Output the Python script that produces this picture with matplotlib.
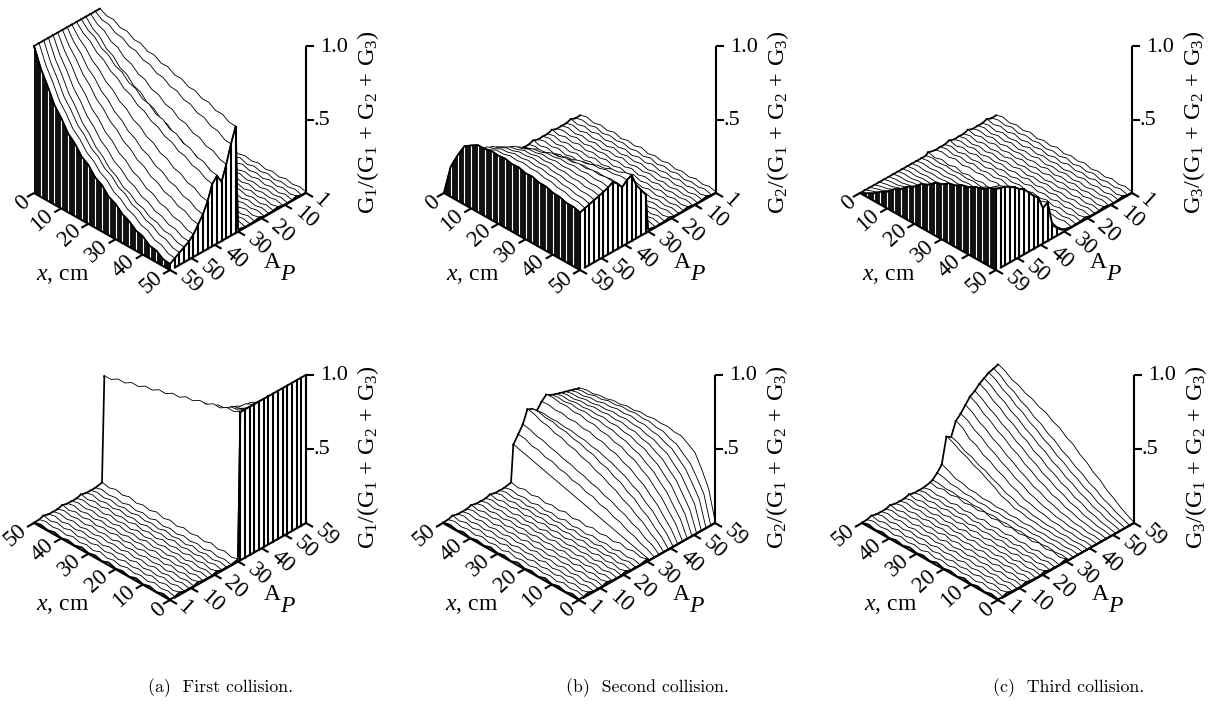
"""Six oblique surface plots of the collision fractions G_i/(G1 + G2 + G3) vs x and A_P."""

import matplotlib
matplotlib.use("Agg")
import matplotlib.pyplot as plt

W, H = 1219, 719

X_CM = [0, 2.5, 5, 7.5, 10, 12.5, 15, 17.5, 20, 22.5, 25, 27.5, 30, 32.5, 35, 37.5, 40, 42.5, 45, 47.5, 50]
A_FLOOR = [1, 3, 5, 7, 9, 11, 13, 15, 17, 19, 21, 23, 25, 27, 30]
A_RAISED = [31, 33, 35, 37, 39, 41, 43, 45, 47, 49, 51, 53, 55, 57, 59]

# the surface is nearly flat for A_P <= 30, all values below are in thousandths
FLOOR_ROWS = [
    [4, 16, 2, 15, 3, 18, 1, 14, 4, 19, 2, 15, 5, 18, 3, 14, 2, 16, 4, 15, 3],
    [2, 14, 4, 18, 1, 15, 5, 16, 2, 14, 3, 19, 1, 15, 4, 18, 2, 14, 5, 16, 3],
    [14, 1, 16, 3, 19, 2, 15, 4, 17, 1, 16, 3, 20, 4, 15, 2, 18, 3, 16, 1, 13],
    [3, 15, 1, 17, 4, 14, 2, 19, 3, 15, 5, 16, 1, 14, 4, 18, 3, 15, 2, 16, 4],
]

G1_ROWS = [
    [1000, 976, 977, 948, 950, 920, 921, 892, 893, 864, 865, 836, 837, 808, 809, 780, 781, 752, 753, 724, 722],
    [1000, 967, 962, 929, 924, 891, 886, 853, 848, 815, 810, 777, 772, 739, 734, 701, 696, 663, 658, 625, 620],
    [1000, 956, 938, 891, 876, 831, 817, 775, 763, 722, 712, 673, 665, 627, 621, 585, 579, 545, 541, 508, 500],
    [1000, 945, 917, 861, 837, 784, 764, 714, 697, 651, 636, 593, 580, 540, 530, 491, 484, 447, 442, 407, 400],
    [1000, 952, 930, 880, 861, 814, 797, 752, 738, 695, 683, 642, 633, 594, 586, 549, 542, 507, 502, 468, 460],
    [1000, 949, 921, 869, 845, 796, 775, 729, 711, 668, 652, 612, 598, 560, 549, 513, 504, 470, 462, 430, 420],
    [1000, 936, 896, 834, 800, 743, 714, 662, 638, 590, 569, 525, 508, 467, 454, 416, 405, 370, 362, 329, 320],
    [1000, 924, 875, 803, 762, 698, 664, 607, 578, 527, 504, 458, 439, 397, 383, 345, 334, 299, 291, 259, 250],
    [1000, 914, 855, 777, 729, 660, 621, 561, 530, 476, 451, 404, 385, 342, 328, 290, 280, 246, 239, 208, 200],
    [1000, 901, 831, 743, 688, 613, 570, 506, 472, 417, 391, 343, 324, 282, 269, 232, 223, 190, 185, 156, 150],
    [1000, 890, 813, 719, 658, 580, 533, 467, 432, 376, 350, 303, 284, 243, 231, 195, 187, 156, 152, 124, 120],
    [1000, 882, 798, 699, 635, 553, 505, 438, 402, 346, 320, 273, 255, 215, 204, 169, 162, 132, 130, 103, 100],
    [1000, 879, 794, 694, 632, 554, 512, 449, 419, 364, 339, 289, 269, 224, 209, 171, 159, 123, 117, 86, 80],
    [1000, 876, 789, 686, 624, 546, 504, 441, 409, 356, 329, 276, 254, 211, 194, 156, 144, 106, 99, 66, 60],
    [1000, 871, 779, 676, 614, 536, 494, 431, 399, 341, 314, 261, 239, 196, 174, 136, 124, 86, 79, 46, 40],
]

G2_ROWS = [
    [0, 12, 26, 38, 52, 64, 78, 90, 104, 116, 130, 142, 156, 168, 182, 194, 208, 220, 234, 246, 260],
    [0, 26, 40, 66, 78, 106, 116, 142, 148, 174, 178, 202, 206, 228, 234, 256, 258, 281, 283, 306, 310],
    [0, 38, 56, 92, 108, 138, 153, 178, 190, 214, 223, 244, 253, 272, 280, 298, 308, 326, 333, 351, 360],
    [0, 46, 76, 118, 143, 178, 198, 231, 248, 276, 290, 316, 326, 351, 358, 381, 386, 408, 413, 436, 445],
    [0, 56, 93, 141, 168, 211, 230, 268, 283, 314, 323, 351, 358, 378, 383, 401, 403, 419, 418, 431, 430],
    [0, 66, 108, 161, 193, 236, 258, 291, 308, 331, 343, 361, 366, 381, 383, 394, 393, 401, 398, 404, 400],
    [0, 76, 128, 186, 223, 268, 293, 328, 343, 371, 378, 401, 403, 421, 418, 434, 428, 441, 436, 446, 442],
    [0, 91, 148, 211, 253, 301, 328, 364, 378, 406, 410, 431, 433, 451, 448, 464, 458, 471, 466, 476, 472],
    [0, 106, 168, 236, 278, 326, 353, 386, 400, 424, 430, 448, 448, 461, 456, 466, 458, 466, 456, 461, 452],
    [0, 121, 188, 261, 303, 351, 376, 408, 418, 441, 443, 458, 453, 464, 456, 462, 453, 458, 446, 451, 440],
    [0, 136, 208, 281, 323, 371, 393, 421, 430, 451, 450, 464, 458, 466, 456, 461, 448, 451, 438, 441, 430],
    [0, 156, 228, 301, 343, 391, 408, 434, 440, 458, 458, 468, 460, 466, 454, 456, 443, 444, 430, 432, 420],
    [0, 171, 248, 321, 363, 406, 420, 444, 448, 464, 460, 471, 461, 466, 453, 454, 438, 438, 423, 424, 410],
    [0, 186, 268, 341, 378, 418, 430, 454, 454, 468, 463, 471, 461, 464, 450, 451, 434, 434, 416, 416, 400],
    [0, 206, 308, 396, 428, 456, 456, 468, 463, 469, 458, 462, 448, 451, 436, 436, 420, 418, 403, 404, 390],
]

G3_ROWS = [
    [0, 8, 0, 8, 0, 8, 0, 8, 0, 8, 2, 10, 2, 10, 4, 12, 6, 14, 10, 19, 20],
    [0, 8, 0, 8, 0, 9, 1, 9, 1, 10, 3, 12, 4, 14, 8, 18, 14, 26, 26, 42, 50],
    [0, 7, 0, 9, 1, 9, 2, 11, 3, 12, 5, 15, 9, 19, 14, 26, 24, 40, 44, 70, 90],
    [0, 7, 1, 9, 3, 11, 8, 17, 18, 32, 33, 56, 68, 101, 123, 151, 168, 196, 213, 241, 260],
    [0, 7, 1, 9, 3, 12, 9, 18, 20, 34, 36, 58, 68, 96, 113, 141, 153, 181, 193, 224, 240],
    [0, 8, 2, 11, 8, 19, 18, 32, 36, 52, 60, 88, 103, 136, 153, 186, 203, 241, 258, 306, 330],
    [0, 8, 4, 14, 12, 24, 28, 44, 52, 72, 86, 116, 133, 166, 188, 221, 243, 281, 303, 341, 360],
    [0, 9, 6, 18, 18, 34, 40, 59, 70, 96, 110, 141, 163, 196, 220, 256, 278, 316, 338, 378, 400],
    [0, 10, 10, 22, 28, 46, 55, 81, 90, 121, 138, 171, 193, 231, 253, 291, 313, 351, 376, 416, 440],
    [0, 12, 14, 29, 38, 61, 70, 98, 113, 144, 163, 198, 220, 256, 280, 316, 340, 376, 400, 436, 460],
    [0, 12, 20, 38, 48, 74, 86, 118, 133, 166, 186, 224, 243, 284, 306, 344, 366, 406, 428, 468, 490],
    [0, 14, 24, 46, 58, 86, 103, 134, 153, 188, 208, 246, 268, 304, 328, 366, 388, 426, 450, 486, 510],
    [0, 16, 30, 54, 68, 101, 118, 151, 173, 208, 230, 268, 290, 328, 350, 388, 410, 448, 470, 508, 530],
    [0, 19, 36, 62, 80, 114, 133, 168, 190, 226, 248, 286, 308, 346, 366, 404, 423, 461, 480, 518, 540],
    [0, 24, 50, 86, 113, 156, 183, 226, 253, 296, 318, 356, 373, 406, 418, 446, 458, 486, 498, 531, 550],
]

X_TICKS = [0, 10, 20, 30, 40, 50]
A_TICKS = [1, 10, 20, 30, 40, 50, 59]
Z_TICKS = [(1.0, "1.0"), (0.5, ".5")]
CAPTIONS = ["(a)  First collision.", "(b)  Second collision.", "(c)  Third collision."]
CAPTION_X = [221, 647, 1069]

DX, DY = 136, 77  # screen extent of one floor edge
ROW_LW = 1.25


def project(view, x, a, z, scale):
    fx = x / 50
    fa = (a - 1) / 58
    if view == "top":
        return DX * fx + DX * (1 - fa), DY * fx - DY * (1 - fa) - scale * z
    return DX * (1 - fx) + DX * fa, DY * (1 - fx) - DY * fa - scale * z


def build_rows(raised):
    rows = [(a, [v / 1000 for v in FLOOR_ROWS[i % len(FLOOR_ROWS)]]) for i, a in enumerate(A_FLOOR)]
    rows += [(a, [v / 1000 for v in r]) for a, r in zip(A_RAISED, raised)]
    return rows


def draw_surface(ax, rows, view, scale):
    order = rows if view == "top" else rows[::-1]
    near_x = 50 if view == "top" else 0
    far_x = 0 if view == "top" else 50
    near_j = X_CM.index(near_x)
    far_j = X_CM.index(far_x)
    zo = 2
    prev = None
    for a, vals in order:
        pts = [project(view, x, a, z, scale) for x, z in zip(X_CM, vals)]
        if prev is not None:
            poly = pts + prev[::-1]
            ax.fill([p[0] for p in poly], [p[1] for p in poly], color="white", lw=0, zorder=zo)
            for j in (near_j, far_j):
                ax.plot([pts[j][0], prev[j][0]], [pts[j][1], prev[j][1]], color="black",
                        lw=ROW_LW, zorder=zo + 0.5)
        ax.plot([p[0] for p in pts], [p[1] for p in pts], color="black", lw=ROW_LW, zorder=zo + 0.5)
        prev = pts
        zo += 1

    # side face under the edge nearest the viewer on the right, one line per row
    base = [project(view, near_x, a, 0, scale) for a, _ in order]
    edge = [project(view, near_x, a, vals[near_j], scale) for a, vals in order]
    poly = edge + base[::-1]
    ax.fill([p[0] for p in poly], [p[1] for p in poly], color="white", lw=0, zorder=zo)
    ax.plot([p[0] for p in edge], [p[1] for p in edge], color="black", lw=ROW_LW, zorder=zo + 0.5)
    for b, e, (_, vals) in zip(base, edge, order):
        if vals[near_j] > 0.02:
            ax.plot([b[0], e[0]], [b[1], e[1]], color="black", lw=1.5, zorder=zo + 0.5)
    zo += 1

    # front skirt of the A_P = 59 row only shows in the upper panels
    if view == "top":
        a, vals = rows[-1]
        top = [project(view, x, a, z, scale) for x, z in zip(X_CM, vals)]
        bottom = [project(view, x, a, 0, scale) for x in X_CM]
        poly = top + bottom[::-1]
        ax.fill([p[0] for p in poly], [p[1] for p in poly], color="#111111", lw=0, zorder=zo)
        for t, b in zip(top[1:-1], bottom[1:-1]):
            ax.plot([t[0], b[0]], [t[1], b[1]], color="white", lw=0.8, zorder=zo + 0.2)
        ax.plot([p[0] for p in top], [p[1] for p in top], color="black", lw=ROW_LW, zorder=zo + 0.5)
    return zo + 1


def draw_axes(ax, view, scale, ylabel, zo):
    line = dict(color="black", lw=1.5, solid_capstyle="butt", zorder=zo)
    ux, uy = 7, 4  # tick length along the floor
    a_near = 59 if view == "top" else 1
    x_near = 50 if view == "top" else 0
    x0 = 0 if view == "top" else 50
    a0 = 1 if view == "top" else 59

    p0, p1 = project(view, x0, a_near, 0, scale), project(view, x_near, a_near, 0, scale)
    ax.plot([p0[0], p1[0]], [p0[1], p1[1]], **line)
    p0, p1 = project(view, x_near, a0, 0, scale), project(view, x_near, a_near, 0, scale)
    ax.plot([p0[0], p1[0] + 4], [p0[1], p1[1] - 2], **line)

    for x in X_TICKS:
        px, py = project(view, x, a_near, 0, scale)
        ax.plot([px, px - ux], [py, py + uy], **line)
        off = (-11, 10) if x == 0 else (-19, 12)
        ax.text(px + off[0], py + off[1], str(x), rotation=42, ha="center", va="center",
                rotation_mode="anchor", fontsize=16.5)
    for a in A_TICKS:
        px, py = project(view, x_near, a, 0, scale)
        ax.plot([px, px + ux], [py, py + uy], **line)
        off = (15, 8) if a == 1 else (21, 13)
        ax.text(px + off[0], py + off[1], str(a), rotation=-42, ha="center", va="center",
                rotation_mode="anchor", fontsize=16.5)

    # vertical axis stands on the right hand corner
    rx, ry = DX * 2, 0
    ax.plot([rx, rx], [ry, ry - scale], **line)
    for z, text in Z_TICKS:
        ax.plot([rx, rx + 8], [ry - scale * z, ry - scale * z], **line)
        ax.text(rx + (28 if z == 1.0 else 16), ry - scale * z + 1, text, ha="center", va="center", fontsize=16)

    ax.text(rx + 62, ry - (71 if view == "top" else 66), ylabel, rotation=90, ha="center", va="center", fontsize=17.5)
    ax.text(rx - 34, ry + (70 if view == "top" else 72), "A", ha="center", va="center", fontsize=17)
    ax.text(rx - 19, ry + (82 if view == "top" else 84), "P", ha="center", va="center", fontsize=17, style="italic")
    ax.text(29, ry + 83, r"$\mathit{x}$, cm", ha="center", va="center", fontsize=17)


def main():
    plt.rcParams["font.family"] = ["Liberation Serif", "DejaVu Serif"]
    plt.rcParams["mathtext.fontset"] = "custom"
    plt.rcParams["mathtext.rm"] = "Liberation Serif"
    plt.rcParams["mathtext.it"] = "Liberation Serif:italic"

    fig = plt.figure(figsize=(W / 100, H / 100), dpi=100, facecolor="white")
    tables = [G1_ROWS, G2_ROWS, G3_ROWS]
    labels = [r"$\mathrm{G_{%d}/(G_1\,+\,G_2\,+\,G_3)}$" % i for i in (1, 2, 3)]
    corners = {"top": [(34, 193), (444, 193), (860, 193)], "bottom": [(34, 523), (443, 523), (862, 523)]}
    scales = {"top": 147, "bottom": 148}

    for view in ("top", "bottom"):
        for table, label, (cx, cy) in zip(tables, labels, corners[view]):
            # one pixel per data unit, with the panel's left floor corner at (0, 0)
            left, top, pw, ph = cx - 30, cy - 190, 400, 300
            ax = fig.add_axes([left / W, 1 - (top + ph) / H, pw / W, ph / H])
            ax.set_xlim(-30, pw - 30)
            ax.set_ylim(ph - 190, -190)
            ax.axis("off")
            zo = draw_surface(ax, build_rows(table), view, scales[view])
            draw_axes(ax, view, scales[view], label, zo)

    for text, x in zip(CAPTIONS, CAPTION_X):
        fig.text(x / W, 1 - 688 / H, text, ha="center", va="center", fontsize=12.8, family="cmr10")

    fig.savefig("out.png", dpi=100)


if __name__ == "__main__":
    main()
